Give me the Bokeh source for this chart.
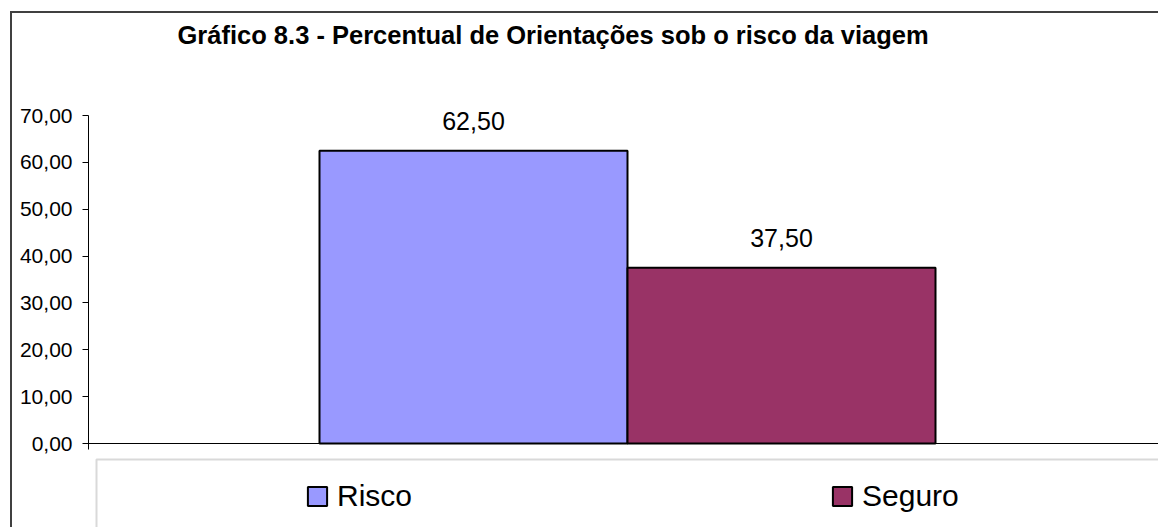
from bokeh.plotting import figure
from bokeh.models import (ColumnDataSource, Range1d, FixedTicker, CustomJSTickFormatter,
                          LabelSet, Legend, LegendItem, BoxAnnotation, Span, Title)
from bokeh.core.properties import value
from bokeh.embed import file_html
from bokeh.resources import INLINE

# ---- data ----
series = ["Risco", "Seguro"]
values = [62.50, 37.50]
colors = ["#9999FF", "#993366"]
y_ticks = [0, 10, 20, 30, 40, 50, 60, 70]
title_text = "Gráfico 8.3 - Percentual de Orientações sob o risco da viagem"

FONT = "Liberation Sans"
W, H = 1148, 516
PX_PER_UNIT = 328 / 70.0

n = len(series)
x_pos = [i - (n - 1) / 2 for i in range(n)]
labels = [f"{v:.2f}".replace(".", ",") for v in values]
src = ColumnDataSource(dict(x=x_pos, top=values, color=colors, label=labels))

p = figure(width=W, height=H, output_backend="svg", toolbar_location=None,
           x_range=Range1d(-1.75, 1.7305),
           y_range=Range1d(-86 / PX_PER_UNIT, 70 + 15 / PX_PER_UNIT),
           x_axis_location=None,
           min_border_left=76, min_border_top=87, min_border_right=0, min_border_bottom=0)
p.styles = {"margin-left": "10px", "margin-top": "11px",
            "border-left": "2px solid #404040", "border-top": "2px solid #404040"}
p.outline_line_color = None
p.xgrid.visible = False
p.ygrid.visible = False
p.background_fill_color = "white"
p.border_fill_color = "white"

# title
p.title.text = title_text
p.title.text_font = FONT
p.title.text_font_size = "25.5px"
p.title.text_font_style = "bold"
p.title.text_color = "black"
p.title.align = "left"
p.title.offset = 89
p.title.standoff = 10

# spacer between title and plot area
p.add_layout(Title(text=" ", text_font_size="10px", standoff=34), "above")

# y axis
ya = p.yaxis[0]
ya.ticker = FixedTicker(ticks=y_ticks, minor_ticks=[])
ya.formatter = CustomJSTickFormatter(code="return tick.toFixed(2).replace('.', ',');")
ya.bounds = (-1.3, 70)
ya.axis_line_color = "black"
ya.axis_line_width = 1
ya.major_tick_line_color = "black"
ya.major_tick_out = 6
ya.major_tick_in = 0
ya.minor_tick_line_color = None
ya.major_label_text_font = FONT
ya.major_label_text_font_size = "21px"
ya.major_label_text_color = "black"
ya.major_label_standoff = 10

# bars
r = p.vbar(x="x", top="top", bottom=0, width=1.0, source=src,
           fill_color="color", line_color="black", line_width=2)

# x baseline
p.add_layout(Span(location=0, dimension="width", line_color="black", line_width=1))

# data labels
p.add_layout(LabelSet(x="x", y="top", text="label", source=src, y_offset=21,
                      text_align="center", text_baseline="alphabetic",
                      text_font=value(FONT), text_font_size=value("25px"),
                      text_color="black"))

# legend box
p.add_layout(BoxAnnotation(left=-1.75 + 8 / 308, top=-16 / PX_PER_UNIT, right=3, bottom=-40,
                           fill_alpha=0, line_color="#808080", line_width=2))

legend = Legend(items=[LegendItem(label=s, renderers=[r], index=i) for i, s in enumerate(series)],
                orientation="horizontal", location=(217, 16),
                glyph_width=24, glyph_height=24, label_standoff=8, spacing=418,
                padding=0, margin=0, border_line_color=None, background_fill_alpha=0,
                label_text_font=FONT, label_text_font_size="30px", label_text_color="black")
p.add_layout(legend, "center")

open("out.html", "w").write(file_html(p, INLINE))
